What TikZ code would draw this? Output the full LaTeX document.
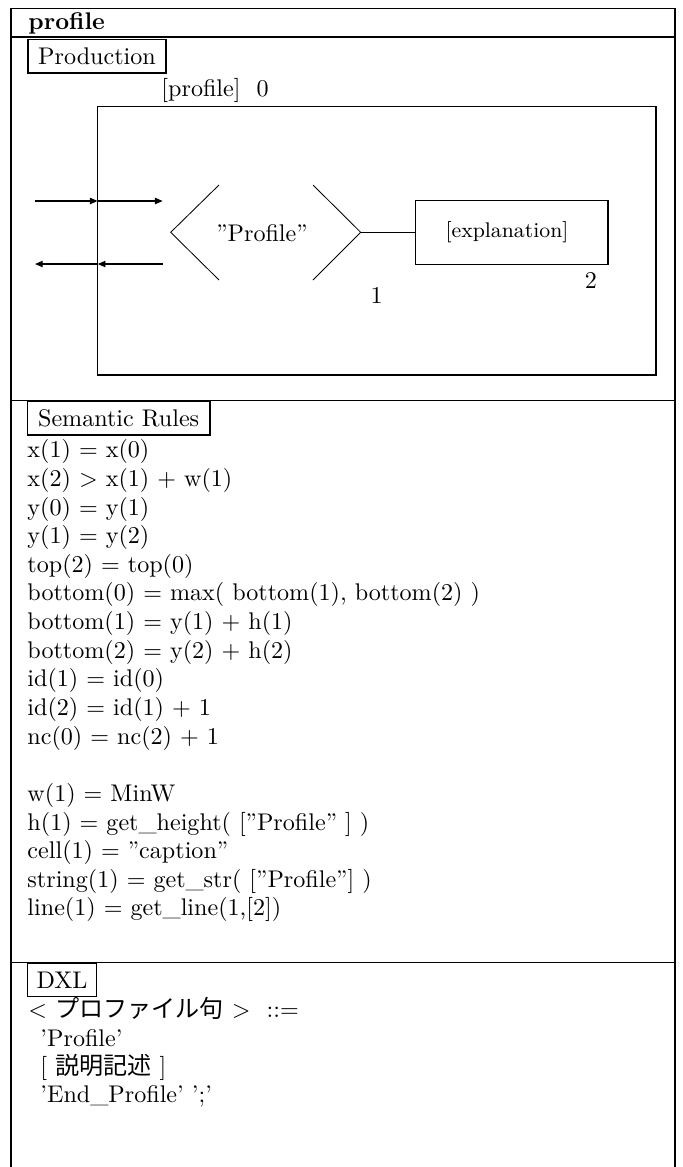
\documentclass[tikz,border=0pt]{standalone}
\usepackage{fontspec}
\newfontfamily\cjk{Noto Sans CJK JP}
\usetikzlibrary{arrows.meta}
\begin{document}
\begin{tikzpicture}[x=0.415pt,y=-0.415pt,
  every node/.style={font=\fontsize{10}{12}\selectfont},
  frameline/.style={line width=0.45pt},
  tag/.style={draw,line width=0.45pt,inner sep=0pt,minimum height=13.8pt},
  txt/.style={anchor=base west,inner sep=0pt},
  flow/.style={line width=0.55pt,-{Triangle[length=3.2pt,width=2.6pt]}},
  chev/.style={line width=0.35pt}]
\useasboundingbox (0,0) rectangle (683,1167);
% outer frame and separators
\draw[frameline] (11,1167) -- (11,8.5) -- (675,8.5) -- (675,1167);
\draw[frameline] (11,37) -- (675,37);
\draw[frameline] (11,400.7) -- (675,400.7);
\draw[frameline] (11,962.7) -- (675,962.7);
% title
\node[txt,font=\fontsize{10}{12}\selectfont\bfseries] (title) at (28,29) {profile};
% Production section
\node[tag,minimum width=57.3pt] (prod) at (97,56.4) {Production};
\node[txt] (plabel) at (161,96) {[profile]\ \ 0};
\node[draw,line width=0.45pt,inner sep=0pt,minimum width=231.7pt,minimum height=111.6pt] (box0) at (376.85,240.5) {};
% chevron caption
\draw[chev] (219,185) -- (170.7,232.3) -- (219,280);
\draw[chev] (313,185) -- (360.7,232.3) -- (313,280);
\coordinate (c1) at (360.7,232.3);
\node (cap) at (262,233) {''Profile''};
\node (n1) at (376.7,295) {1};
\node[draw,line width=0.45pt,inner sep=0pt,minimum width=79.8pt,minimum height=26.3pt] (expl) at (511.85,232.35) {};
\node[font=\fontsize{8.8}{10}\selectfont] (expltxt) at (507,232) {[explanation]};
\node (n2) at (591,280) {2};
\draw[line width=0.45pt] (c1) -- (c1 -| expl.west);
% in/out arrows
\coordinate (ina) at (35,201);
\coordinate (inb) at (97.7,201);
\coordinate (inc) at (162.7,201);
\coordinate (outa) at (162.7,264);
\coordinate (outb) at (97.7,264);
\coordinate (outc) at (35,264);
\draw[flow] (ina) -- (inb);
\draw[flow] (inb) -- (inc);
\draw[flow] (outa) -- (outb);
\draw[flow] (outb) -- (outc);
% Semantic rules
\node[tag,minimum width=75.8pt] (sem) at (118.65,418.35) {Semantic Rules};
\node[txt] (r0) at (27,457.7) {x(1) = x(0)};
\node[txt] (r1) at (27,486.3) {x(2) > x(1) + w(1)};
\node[txt] (r2) at (27,515.0) {y(0) = y(1)};
\node[txt] (r3) at (27,543.6) {y(1) = y(2)};
\node[txt] (r4) at (27,572.3) {top(2) = top(0)};
\node[txt] (r5) at (27,600.9) {bottom(0) = max( bottom(1), bottom(2) )};
\node[txt] (r6) at (27,629.5) {bottom(1) = y(1) + h(1)};
\node[txt] (r7) at (27,658.2) {bottom(2) = y(2) + h(2)};
\node[txt] (r8) at (27,686.8) {id(1) = id(0)};
\node[txt] (r9) at (27,715.5) {id(2) = id(1) + 1};
\node[txt] (r10) at (27,744.1) {nc(0) = nc(2) + 1};
\node[txt] (r12) at (27,801.4) {w(1) = MinW};
\node[txt] (r13) at (27,830.0) {h(1) = get\_height( [''Profile'' ] )};
\node[txt] (r14) at (27,858.7) {cell(1) = ''caption''};
\node[txt] (r15) at (27,887.3) {string(1) = get\_str( [''Profile''] )};
\node[txt] (r16) at (27,915.9) {line(1) = get\_line(1,[2])};
% DXL
\node[tag,minimum width=28.8pt] (dxl) at (62,980) {DXL};
\node[txt] (d0) at (28,1017.7) {<\ {\cjk プロファイル句}\ >\ \ ::=};
\node[txt] (d1) at (40,1046) {'Profile'};
\node[txt] (d2) at (40,1074.3) {[\ {\cjk 説明記述}\ ]};
\node[txt] (d3) at (40,1102.6) {'End\_Profile' ';'};
\end{tikzpicture}
\end{document}
